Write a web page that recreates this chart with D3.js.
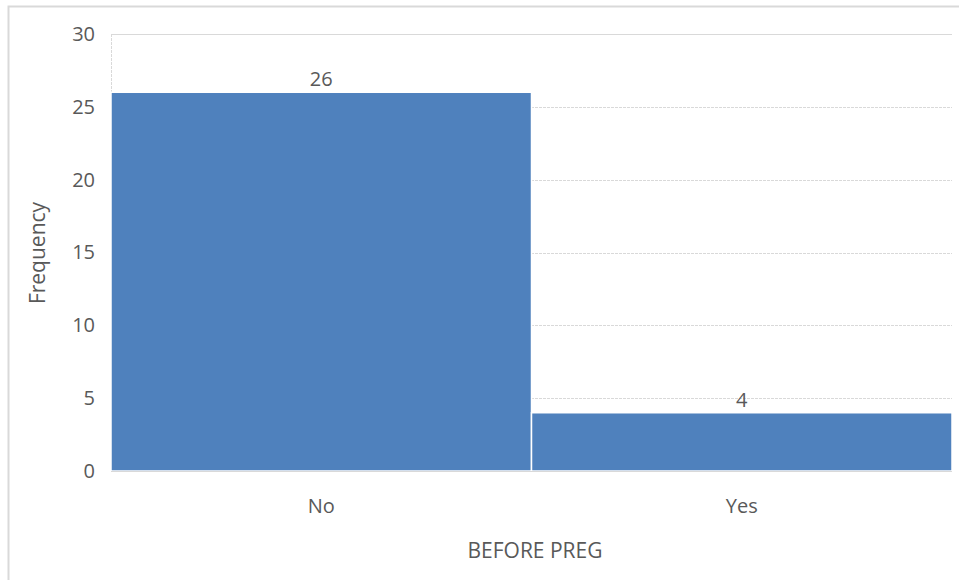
<!DOCTYPE html>
<html>
<head>
<meta charset="utf-8">
<script src="https://cdn.jsdelivr.net/npm/d3@7"></script>
<style>
  body { margin: 0; background: #fff; }
  text { font-family: "Open Sans", "Noto Sans", sans-serif; fill: #595959; }
</style>
</head>
<body>
<svg id="chart" width="959" height="580"></svg>
<script>
// data
var categories = ['No', 'Yes'];
var counts = [26, 4];
var yTicks = [0, 5, 10, 15, 20, 25, 30];

var svg = d3.select('#chart');
var margin = {left: 111, right: 7, top: 34, bottom: 109};
var width = 959 - margin.left - margin.right;
var height = 580 - margin.top - margin.bottom;
var fontSize = 20;

// outer chart frame
svg.append('rect')
    .attr('x', 8.5).attr('y', 6.5)
    .attr('width', 960).attr('height', 580)
    .attr('fill', 'none')
    .attr('stroke', '#d9d9d9')
    .attr('stroke-width', 2);

var g = svg.append('g').attr('transform', 'translate(' + margin.left + ',' + margin.top + ')');

var x = d3.scaleBand().domain(categories).range([0, width]).padding(0);
var y = d3.scaleLinear().domain([0, 30]).range([height, 0]);

// gridlines
g.selectAll('.grid')
    .data(yTicks.filter(function(d) { return d > 0; }))
    .enter().append('line')
    .attr('class', 'grid')
    .attr('x1', 0).attr('x2', width)
    .attr('y1', function(d) { return Math.round(y(d)) + 0.5; })
    .attr('y2', function(d) { return Math.round(y(d)) + 0.5; })
    .attr('stroke', '#d9d9d9')
    .attr('stroke-dasharray', function(d) { return d === 30 ? null : '3,1'; });

// left edge of plot area
g.append('line')
    .attr('x1', 0.5).attr('x2', 0.5)
    .attr('y1', 0).attr('y2', height)
    .attr('stroke', '#d9d9d9')
    .attr('stroke-dasharray', '3,1');

// bars
g.selectAll('.bar')
    .data(counts)
    .enter().append('rect')
    .attr('class', 'bar')
    .attr('x', function(d, i) { return x(categories[i]); })
    .attr('y', function(d) { return y(d); })
    .attr('width', x.bandwidth())
    .attr('height', function(d) { return height - y(d); })
    .attr('fill', '#4f81bd')
    .attr('stroke', '#ffffff')
    .attr('stroke-width', 1.5);

// baseline
g.append('line')
    .attr('x1', 0).attr('x2', width)
    .attr('y1', height + 0.5).attr('y2', height + 0.5)
    .attr('stroke', '#d9d9d9');

// value labels
g.selectAll('.value')
    .data(counts)
    .enter().append('text')
    .attr('class', 'value')
    .attr('x', function(d, i) { return x(categories[i]) + x.bandwidth() / 2; })
    .attr('y', function(d) { return y(d) - 6; })
    .attr('text-anchor', 'middle')
    .attr('font-size', fontSize)
    .text(function(d) { return d; });

// y axis
var yAxis = d3.axisLeft(y).tickValues(yTicks).tickSize(0).tickPadding(16);
g.append('g').call(yAxis)
    .call(function(s) { s.select('.domain').remove(); })
    .selectAll('text')
    .attr('font-size', fontSize)
    .style('fill', '#595959');

// x axis
var xAxis = d3.axisBottom(x).tickSize(0).tickPadding(28);
g.append('g').attr('transform', 'translate(0,' + height + ')').call(xAxis)
    .call(function(s) { s.select('.domain').remove(); })
    .selectAll('text')
    .attr('font-size', fontSize)
    .style('fill', '#595959');

// strip d3's default axis font so the page font applies
svg.selectAll('g').attr('font-family', null).attr('font-size', null);

// axis titles
svg.append('text')
    .attr('transform', 'translate(45,253) rotate(-90)')
    .attr('text-anchor', 'middle')
    .attr('font-size', 21)
    .text('Frequency');

svg.append('text')
    .attr('x', 535).attr('y', 558)
    .attr('text-anchor', 'middle')
    .attr('font-size', 21)
    .text('BEFORE PREG');
</script>
</body>
</html>
